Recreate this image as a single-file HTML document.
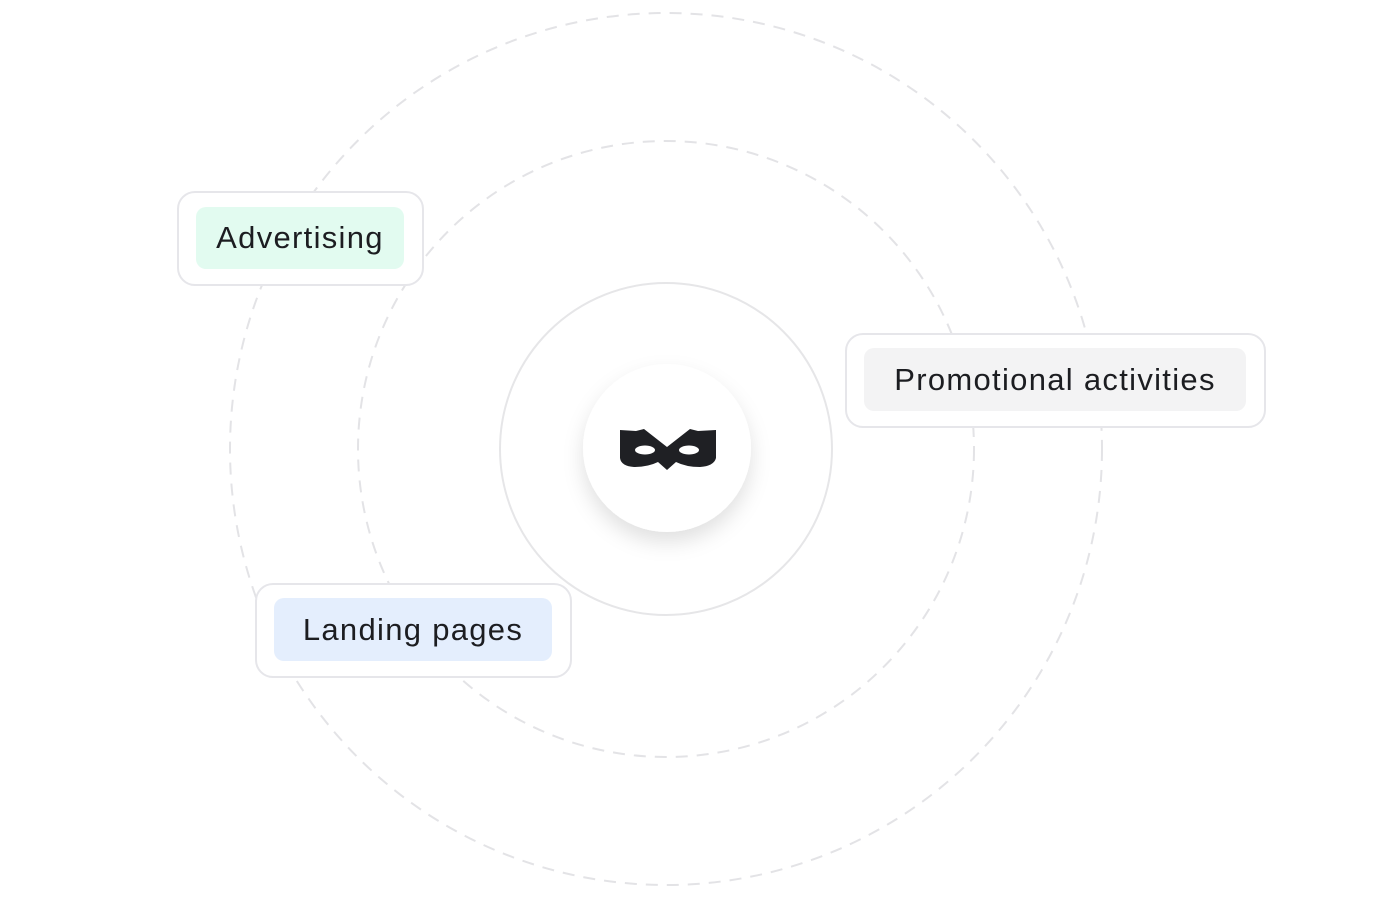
<!DOCTYPE html>
<html><head><style>
body{margin:0;width:1374px;height:900px;background:#fff;position:relative;overflow:hidden;font-family:"Liberation Sans",sans-serif}
.box{position:absolute;background:#fff;border:2px solid #e6e6ea;border-radius:18px;box-sizing:border-box}
.tag{position:absolute;border-radius:10px;font-size:31px;color:#1c1d21;display:flex;align-items:center;justify-content:center;letter-spacing:1.3px}
</style></head><body>
<svg width="1374" height="900" style="position:absolute;left:0;top:0">
<defs><filter id="s" x="-50%" y="-50%" width="200%" height="200%"><feDropShadow dx="0" dy="10" stdDeviation="10" flood-color="#000" flood-opacity="0.12"/></filter></defs>
<circle cx="666" cy="449" r="436" fill="none" stroke="#e3e3e6" stroke-width="2" stroke-dasharray="12 9"/>
<circle cx="666" cy="449" r="308" fill="none" stroke="#e3e3e6" stroke-width="2" stroke-dasharray="12 9"/>
<circle cx="666" cy="449" r="166" fill="none" stroke="#e6e6e8" stroke-width="2"/>
<circle cx="667" cy="448" r="84" fill="#fff" filter="url(#s)"/>
<path d="M620 430 L636 431 L644 429 L667 447 L690 429 L698 431 L716 430 L716 458 Q714 466 700 467 Q686 467 676 462 L667 470 L658 462 Q648 467 634 467 Q621 466 620 458 Z" fill="#1f2024"/>
<ellipse cx="645" cy="450" rx="10" ry="4.5" fill="#fff"/>
<ellipse cx="689" cy="450" rx="10" ry="4.5" fill="#fff"/>
</svg>
<div class="box" style="left:177px;top:191px;width:247px;height:95px"></div>
<div class="tag" style="left:196px;top:207px;width:208px;height:62px;background:#e2fbf0">Advertising</div>
<div class="box" style="left:845px;top:333px;width:421px;height:95px"></div>
<div class="tag" style="left:864px;top:348px;width:382px;height:63px;background:#f3f3f4">Promotional activities</div>
<div class="box" style="left:255px;top:583px;width:317px;height:95px"></div>
<div class="tag" style="left:274px;top:598px;width:278px;height:63px;background:#e4eefd">Landing pages</div>
</body></html>
